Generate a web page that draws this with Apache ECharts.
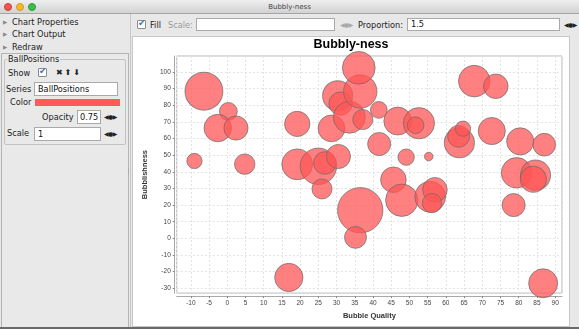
<!DOCTYPE html>
<html>
<head>
<meta charset="utf-8">
<script src="https://cdn.jsdelivr.net/npm/echarts@6/dist/echarts.min.js"></script>
<style>
  html, body { margin:0; padding:0; width:579px; height:329px; overflow:hidden; background:#e8e8e8; font-family:"DejaVu Sans", sans-serif; }
  .abs { position:absolute; white-space:nowrap; }
  #titlebar { left:0; top:0; width:579px; height:14px; background:linear-gradient(#efefef,#d2d2d2); border-bottom:1px solid #a5a5a5; box-sizing:border-box; }
  .light { width:8px; height:8px; border-radius:50%; top:3px; box-sizing:border-box; }
  .t { font-size:8.2px; color:#222; line-height:10px; }
  .tri { font-size:5.5px; color:#8a8a8a; line-height:10px; }
  .box { background:#fff; border:1px solid #a9a9a9; box-sizing:border-box; font-size:8.2px; line-height:11px; padding-left:3px; color:#111; }
  .arr { font-family:"DejaVu Sans", sans-serif; font-size:6px; color:#222; line-height:10px; letter-spacing:-0.5px; }
  .chk { width:9px; height:9px; border:1px solid #8a8a8a; background:#fff; box-sizing:border-box; border-radius:1px; }
  .chk span { position:absolute; left:0px; top:-3px; font-family:"DejaVu Sans", sans-serif; font-size:9px; color:#3a6fc4; }
  #chart { left:133px; top:37px; width:436px; height:288px; background:#fff; }
</style>
</head>
<body>
<div id="titlebar" class="abs"></div>
<div class="abs light" style="left:4px;background:#f2574f;border:0.5px solid #cf3c35"></div>
<div class="abs light" style="left:16px;background:#f8b82e;border:0.5px solid #d49a22"></div>
<div class="abs light" style="left:28px;background:#3cc049;border:0.5px solid #2a9b36"></div>
<div class="abs" style="left:0;top:2px;width:579px;text-align:center;font-size:7px;color:#444;line-height:10px;">Bubbly-ness</div>

<!-- left panel -->
<div class="abs tri" style="left:3px;top:17px;">&#9654;</div>
<div class="abs t" style="left:12px;top:17px;">Chart Properties</div>
<div class="abs tri" style="left:3px;top:29px;">&#9654;</div>
<div class="abs t" style="left:12px;top:29px;">Chart Output</div>
<div class="abs tri" style="left:3px;top:42px;">&#9654;</div>
<div class="abs t" style="left:12px;top:42px;">Redraw</div>
<div class="abs" style="left:1px;top:53px;width:128px;height:280px;border:1px solid #b4b4b4;box-sizing:border-box;background:#e9e9e9;"></div>
<div class="abs" style="left:4px;top:59px;width:122px;height:86px;border:1px solid #c2c2c2;border-radius:2px;box-sizing:border-box;"></div>
<div class="abs t" style="left:7px;top:54px;background:#e9e9e9;padding:0 1px;">BallPositions</div>
<div class="abs t" style="left:8px;top:68px;">Show</div>
<div class="abs chk" style="left:38px;top:68px;"><span>&#10004;</span></div>
<div class="abs arr" style="left:56px;top:68px;font-size:8px;letter-spacing:2px;">&#10006;&#11014;&#11015;</div>
<div class="abs t" style="left:6px;top:84px;">Series</div>
<div class="abs box" style="left:34px;top:82px;width:84px;height:14px;line-height:12px;">BallPositions</div>
<div class="abs t" style="left:10px;top:97px;">Color</div>
<div class="abs" style="left:35px;top:99px;width:85px;height:7px;background:#ff5a5a;"></div>
<div class="abs t" style="left:42px;top:112px;">Opacity</div>
<div class="abs box" style="left:77px;top:110px;width:24px;height:14px;line-height:12px;padding-left:2px;">0.75</div>
<div class="abs arr" style="left:104px;top:112px;">&#9664;&#9679;&#9654;</div>
<div class="abs t" style="left:7px;top:128px;">Scale</div>
<div class="abs box" style="left:34px;top:127px;width:67px;height:14px;line-height:12px;">1</div>
<div class="abs arr" style="left:104px;top:129px;">&#9664;&#9679;&#9654;</div>
<div class="abs" style="left:130px;top:14px;width:1px;height:315px;background:#c8c8c8;"></div>
<div class="abs" style="left:128px;top:168px;width:1px;height:6px;background:#aaa;"></div>

<!-- toolbar -->
<div class="abs chk" style="left:137px;top:20px;"><span>&#10004;</span></div>
<div class="abs t" style="left:150px;top:20px;">Fill</div>
<div class="abs t" style="left:168px;top:20px;color:#9a9a9a;">Scale:</div>
<div class="abs box" style="left:196px;top:18px;width:139px;height:13px;"></div>
<div class="abs arr" style="left:340px;top:20px;color:#aaa;">&#9664;&#9679;&#9654;</div>
<div class="abs t" style="left:358px;top:20px;">Proportion:</div>
<div class="abs box" style="left:407px;top:18px;width:153px;height:13px;line-height:11px;">1.5</div>
<div class="abs arr" style="left:564px;top:20px;">&#9664;&#9679;&#9654;</div>

<!-- chart panel -->
<div class="abs" style="left:132px;top:36px;width:438px;height:291px;border:1px solid #c6c6c6;box-sizing:border-box;background:#fff;"></div>
<div id="chart" class="abs"></div>
<div class="abs" style="left:0;top:327px;width:579px;height:2px;background:#6a6a6a;"></div>

<script>
// ---- data ----
const qualityX   = [-6.4, 0.3, -2.6, 2.4, -9.0, 4.8, 19.2, 19.2, 25.0, 26.8, 26.0, 30.5, 28.6, 30.3, 31.1, 33.5, 36.5, 36.1, 37.2, 41.6, 41.7, 46.8, 52.6, 51.7, 49.1, 55.3, 45.6, 47.9, 55.7, 57.0, 56.2, 63.7, 63.5, 64.7, 67.8, 73.7, 72.6, 80.4, 87.0, 79.4, 84.6, 84.0, 78.6, 86.7, 36.5, 35.2, 16.9];
const bubblishY  = [88.4, 76.3, 66.3, 66.3, 46.5, 44.6, 68.8, 44.5, 43.3, 45.3, 29.7, 49.2, 66.1, 85.7, 81.0, 72.8, 88.3, 102.5, 71.4, 77.2, 56.7, 70.5, 69.2, 68.0, 48.8, 49.2, 35.2, 22.9, 25.0, 29.2, 21.2, 57.5, 61.3, 65.9, 94.5, 91.4, 64.5, 58.3, 56.3, 39.4, 38.0, 35.5, 20.0, -27.0, 16.9, 0.6, -23.5];
const bubbleSize = [10.2, 4.8, 7.4, 6.5, 4.1, 5.5, 6.8, 8.3, 9.8, 6.1, 5.4, 6.5, 7.2, 8.1, 6.3, 8.6, 9.0, 8.8, 5.4, 4.5, 6.2, 7.5, 8.4, 4.5, 4.4, 2.3, 6.9, 8.7, 8.3, 6.6, 5.2, 8.1, 5.9, 4.1, 8.5, 6.6, 7.3, 7.3, 6.1, 8.2, 8.1, 7.0, 6.2, 7.8, 12.2, 5.9, 7.6];
const xRange = [-13.86, 91.87];
const yRange = [-32.9, 109.6];
const seriesName = 'BallPositions';

const data = qualityX.map((x, i) => [x, bubblishY[i], bubbleSize[i]]);
const GRID = { left: 36, right: 7, top: 19, bottom: 26 };
const CHART_W = 436;
const pxPerUnit = (CHART_W - GRID.left - GRID.right) / (xRange[1] - xRange[0]);

const FONT = 'Liberation Sans';
const chart = echarts.init(document.getElementById('chart'), null, { renderer: 'canvas' });
chart.setOption({
  animation: false,
  backgroundColor: '#fff',
  title: {
    text: 'Bubbly-ness', left: 'center', top: 1, padding: 0,
    textStyle: { fontFamily: FONT, fontSize: 12.5, fontWeight: 'bold', color: '#000' }
  },
  grid: Object.assign({ show: true, borderColor: '#b5b5b5', borderWidth: 1, backgroundColor: '#fff' }, GRID),
  xAxis: {
    type: 'value', min: xRange[0], max: xRange[1], splitNumber: 21, offset: 3,
    name: 'Bubble Quality', nameLocation: 'middle', nameGap: 13,
    nameTextStyle: { fontFamily: FONT, fontSize: 7.5, fontWeight: 'bold', color: '#333' },
    axisLine: { show: true, onZero: false, lineStyle: { color: '#a8a8a8', width: 1 } },
    axisTick: { show: true, length: 2, lineStyle: { color: '#888' } },
    axisLabel: { fontFamily: FONT, fontSize: 6.5, color: '#444', margin: 4, showMinLabel: false, showMaxLabel: false },
    splitLine: { show: true, lineStyle: { color: '#e2e2e2', width: 1, type: [2, 2] } }
  },
  yAxis: {
    type: 'value', min: yRange[0], max: yRange[1], splitNumber: 14, offset: 2,
    name: 'Bubblishness', nameLocation: 'middle', nameGap: 19, nameRotate: 90,
    nameTextStyle: { fontFamily: FONT, fontSize: 7.5, fontWeight: 'bold', color: '#333' },
    axisLine: { show: true, onZero: false, lineStyle: { color: '#a8a8a8', width: 1 } },
    axisTick: { show: true, length: 2, lineStyle: { color: '#888' } },
    axisLabel: { fontFamily: FONT, fontSize: 6.5, color: '#444', margin: 4, showMinLabel: false, showMaxLabel: false },
    splitLine: { show: true, lineStyle: { color: '#e2e2e2', width: 1, type: [2, 2] } }
  },
  series: [{
    name: seriesName, type: 'scatter', data: data,
    symbolSize: v => v[2] * pxPerUnit,
    itemStyle: { color: 'rgba(255,85,85,0.75)', borderColor: 'rgba(105,105,105,0.7)', borderWidth: 1, opacity: 1 }
  }]
});
</script>
</body>
</html>
